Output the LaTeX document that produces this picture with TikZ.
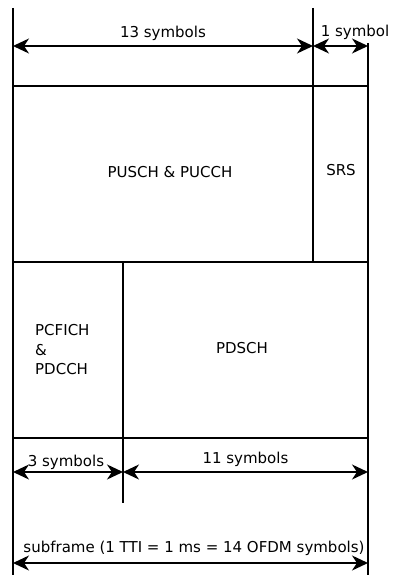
\documentclass[tikz,border=0pt]{standalone}
\usepackage{fontspec}
\setmainfont{DejaVu Sans}
\usetikzlibrary{arrows.meta}

\begin{document}
\begin{tikzpicture}[
    x=1pt, y=-1pt,
    frame/.style={line width=1.8pt, draw=black},
    dim/.style={{Stealth[length=16pt, width=15pt, inset=5pt]}-{Stealth[length=16pt, width=15pt, inset=5pt]},
                line width=1.8pt, draw=black},
    lbl/.style={font=\fontsize{15}{18}\selectfont, inner sep=1pt},
    region/.style={font=\fontsize{15}{19.5}\selectfont, inner sep=0pt}
]
\useasboundingbox (0,0) rectangle (395,575);

%% Grid corners
\coordinate (lefttop)  at (13,8);
\coordinate (leftbot)  at (13,575);
\coordinate (midtop)   at (313,8);
\coordinate (midbot)   at (313,262);
\coordinate (righttop) at (368,43);
\coordinate (rightbot) at (368,575);
\coordinate (splittop) at (123,262);
\coordinate (splitbot) at (123,503);

%% ── Frame lines ───────────────────────────────────────────────────
\draw[frame] (lefttop) -- (leftbot);
\draw[frame] (midtop) -- (midbot);
\draw[frame] (righttop) -- (rightbot);
\draw[frame] (splittop) -- (splitbot);
\draw[frame] (13,86)  -- (368,86);
\draw[frame] (13,262) -- (368,262);
\draw[frame] (13,438) -- (368,438);

%% Regions
\node[region] (pusch) at (170,172) {PUSCH \& PUCCH};
\node[region] (srs)   at (341,170) {SRS};
\node[region, align=left, anchor=west] (pdcch) at (35,350) {PCFICH\\\&\\PDCCH};
\node[region] (pdsch) at (242,348) {PDSCH};

%% ── Top dimensions ───────────────────────────────────────────────
\coordinate (a13l) at (13,46);
\coordinate (a13r) at (313,46);
\coordinate (a1r)  at (368,46);
\draw[dim] (a13l) -- node[lbl, above=3pt] {13 symbols} (a13r);
\draw[dim] (a13r) -- (a1r);
\node[lbl, anchor=base] (one) at (355,37) {1 symbol};

%% ── Bottom dimensions ────────────────────────────────────────────
\coordinate (a3l)  at (13,472);
\coordinate (a3r)  at (123,472);
\coordinate (a11r) at (368,472);
\draw[dim] (a3l) -- (a3r);
\node[lbl, anchor=base] (three) at (66,466) {3 symbols};
\draw[dim] (a3r) -- node[lbl, above=3pt] {11 symbols} (a11r);

%% ── Subframe ─────────────────────────────────────────────────────
\coordinate (sfl) at (13,563);
\coordinate (sfr) at (368,563);
\draw[dim] (sfl) -- (sfr);
\node[lbl, anchor=base] (sub) at (194,552) {subframe (1 TTI = 1 ms = 14 OFDM symbols)};

\end{tikzpicture}
\end{document}
